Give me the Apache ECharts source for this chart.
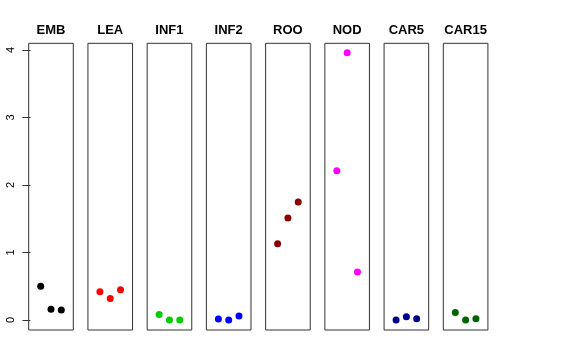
<!DOCTYPE html>
<html>
<head>
<meta charset="utf-8">
<script src="https://cdn.jsdelivr.net/npm/echarts@6/dist/echarts.min.js"></script>
<style>
html,body{margin:0;padding:0;background:#fff;}
#chart{width:576px;height:360px;}
</style>
</head>
<body>
<div id="chart"></div>
<script>
// Panel names (tissues)
const categories = ['EMB', 'LEA', 'INF1', 'INF2', 'ROO', 'NOD', 'CAR5', 'CAR15'];
// Replicate positions within each panel
const replicates = [1, 2, 3];
// Values per panel
const EMB = [0.50, 0.16, 0.15];
const LEA = [0.42, 0.32, 0.45];
const INF1 = [0.08, 0.00, 0.00];
const INF2 = [0.015, 0.00, 0.06];
const ROO = [1.13, 1.51, 1.75];
const NOD = [2.21, 3.96, 0.71];
const CAR5 = [0.00, 0.05, 0.02];
const CAR15 = [0.11, 0.00, 0.02];
const yTicks = [0, 1, 2, 3, 4];

const seriesValues = [EMB, LEA, INF1, INF2, ROO, NOD, CAR5, CAR15];
const colors = ['#000000', '#FF0000', '#00CD00', '#0000FF', '#8B0000', '#FF00FF', '#00008B', '#006400'];

const panelLeft0 = 28.7, panelStep = 59.23, panelWidth = 44.6;
const gridTop = 43.3, gridHeight = 286.7;

const grids = [], xAxes = [], yAxes = [], series = [];
categories.forEach((name, i) => {
  grids.push({
    left: panelLeft0 + i * panelStep, top: gridTop,
    width: panelWidth, height: gridHeight,
    show: true, borderColor: '#333', borderWidth: 1, backgroundColor: 'transparent'
  });
  xAxes.push({
    gridIndex: i, type: 'value', min: -0.165, max: 4.165, position: 'top',
    name: name, nameLocation: 'middle', nameGap: 6,
    nameTextStyle: {fontFamily: 'Liberation Sans', fontWeight: 'bold', fontSize: 13, color: '#000'},
    axisLine: {show: false}, axisTick: {show: false}, axisLabel: {show: false}, splitLine: {show: false}
  });
  yAxes.push({
    gridIndex: i, type: 'value', min: -0.148, max: 4.10,
    axisLine: {show: false},
    axisTick: {show: i === 0, length: 8, inside: false, customValues: yTicks, lineStyle: {color: '#333'}},
    axisLabel: {show: i === 0, customValues: yTicks, rotate: 90, margin: 12,
      fontFamily: 'Liberation Sans', fontSize: 11, color: '#000'},
    splitLine: {show: false}
  });
  series.push({
    type: 'scatter', xAxisIndex: i, yAxisIndex: i,
    data: replicates.map((r, j) => [r, seriesValues[i][j]]),
    symbol: 'circle', symbolSize: 7,
    itemStyle: {color: colors[i], opacity: 1},
    silent: true
  });
});

const chart = echarts.init(document.getElementById('chart'), null, {renderer: 'canvas'});
chart.setOption({
  animation: false,
  backgroundColor: '#fff',
  grid: grids, xAxis: xAxes, yAxis: yAxes, series: series
});
</script>
</body>
</html>
